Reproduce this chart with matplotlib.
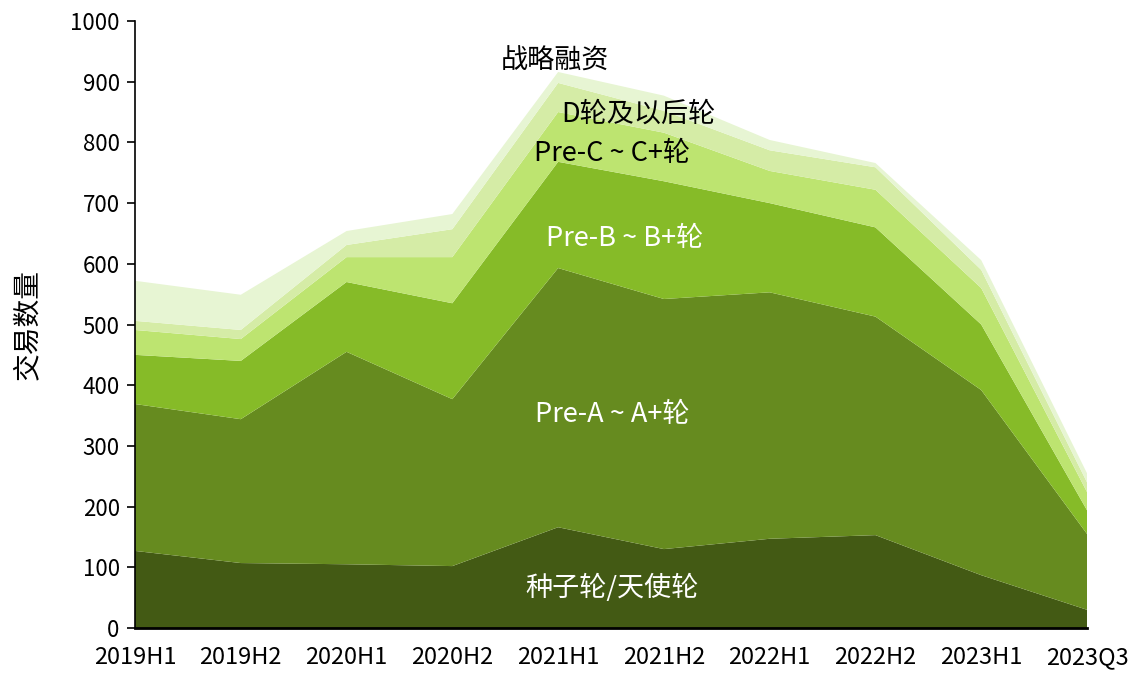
import matplotlib
matplotlib.use("Agg")
import matplotlib.pyplot as plt

plt.rcParams['font.family'] = ['Noto Sans CJK SC', 'DejaVu Sans']

# periods on the x axis
periods = ["2019H1", "2019H2", "2020H1", "2020H2", "2021H1",
           "2021H2", "2022H1", "2022H2", "2023H1", "2023Q3"]

# deal counts per round (bottom to top of the stack)
seed = [127, 107, 105, 102, 166, 130, 147, 153, 87, 30]
round_a = [242, 237, 350, 275, 427, 412, 406, 360, 305, 125]
round_b = [81, 96, 115, 158, 175, 194, 147, 147, 108, 39]
round_c = [41, 36, 41, 76, 82, 80, 53, 62, 60, 30]
round_d = [15, 15, 20, 46, 48, 36, 34, 37, 30, 16]
strategic = [66, 58, 23, 25, 18, 25, 17, 7, 16, 15]

series_names = ["种子轮/天使轮", "Pre-A ~ A+轮", "Pre-B ~ B+轮",
                "Pre-C ~ C+轮", "D轮及以后轮", "战略融资"]
colors = ["#435a14", "#668b1f", "#86bb28", "#bde470", "#d5eca6", "#e7f5d3"]

fig = plt.figure(figsize=(11.33, 6.76), dpi=100)
ax = fig.add_axes([135 / 1133, 48 / 676, 952 / 1133, 607 / 676])

x = list(range(len(periods)))
ax.stackplot(x, seed, round_a, round_b, round_c, round_d, strategic,
             colors=colors, labels=series_names, linewidth=0)

ax.set_xlim(0, len(periods) - 1)
ax.set_ylim(0, 1000)
ax.set_yticks(range(0, 1001, 100))
ax.set_xticks(x)
ax.set_xticklabels(periods)
ax.tick_params(axis="y", labelsize=16, length=6, width=1.2, direction="out", pad=5)
ax.tick_params(axis="x", labelsize=17, length=0, pad=13)
ax.set_ylabel("交易数量", fontsize=20, labelpad=20)

for side in ["top", "right"]:
    ax.spines[side].set_visible(False)
ax.spines["left"].set_linewidth(1.2)
ax.spines["bottom"].set_linewidth(2)

# series labels written on the areas
fs = 19.5
ax.text(3.97, 934, "战略融资", fontsize=fs, ha="center", va="center", color="black")
ax.text(4.76, 846, "D轮及以后轮", fontsize=fs, ha="center", va="center", color="black")
ax.text(4.51, 781, "Pre-C ~ C+轮", fontsize=fs, ha="center", va="center", color="black")
ax.text(4.63, 641, "Pre-B ~ B+轮", fontsize=fs, ha="center", va="center", color="white")
ax.text(4.51, 351, "Pre-A ~ A+轮", fontsize=fs, ha="center", va="center", color="white")
ax.text(4.51, 66, "种子轮/天使轮", fontsize=fs, ha="center", va="center", color="white")

fig.savefig("out.png", dpi=100)
